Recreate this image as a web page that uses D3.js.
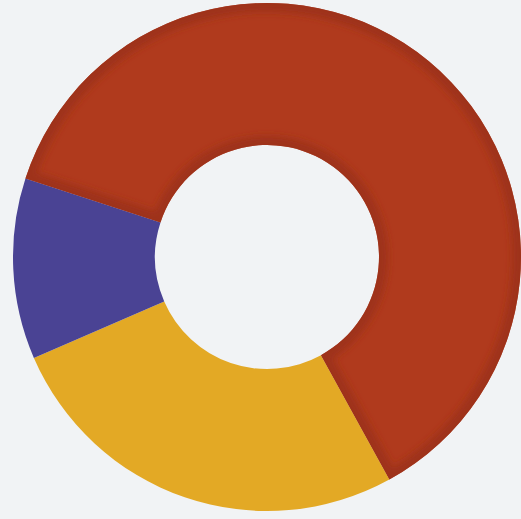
<!DOCTYPE html>
<html>
<head>
<meta charset="utf-8">
<script src="https://cdn.jsdelivr.net/npm/d3@7"></script>
<style>
  body { margin: 0; background: #f1f3f5; }
  svg { display: block; }
</style>
</head>
<body>
<svg id="chart"></svg>
<script>
// chart size
var width = 521,
    height = 519;

// slice data
var categories = ["A", "B", "C"];
var values = [62, 26.5, 11.5];
var colors = ["#b03a1d", "#e3a925", "#4a4394"];
var edgeColors = ["#9a301b", null, null];

var svg = d3.select("#chart")
    .attr("width", width)
    .attr("height", height);

var g = svg.append("g")
    .attr("transform", "translate(267,257)");

// pie starts at the red/blue boundary, about 72 degrees left of top
var start = -72 * Math.PI / 180;
var pie = d3.pie()
    .sort(null)
    .startAngle(start)
    .endAngle(start + 2 * Math.PI);

var arc = d3.arc()
    .innerRadius(112)
    .outerRadius(254);

var arcs = pie(values);

var defs = svg.append("defs");
defs.append("filter")
    .attr("id", "soft")
  .append("feGaussianBlur")
    .attr("stdDeviation", 3.5);

arcs.forEach(function(d, i) {
  defs.append("clipPath")
      .attr("id", "clip" + i)
    .append("path")
      .attr("d", arc(d));
});

// slices
g.selectAll("path.slice")
    .data(arcs)
  .enter().append("path")
    .attr("class", "slice")
    .attr("fill", function(d, i) { return colors[i]; })
    .attr("d", arc);

// darker rim inside the red slice
g.selectAll("g.rim")
    .data(arcs.filter(function(d, i) { return edgeColors[i]; }))
  .enter().append("g")
    .attr("class", "rim")
    .attr("clip-path", function(d) { return "url(#clip" + d.index + ")"; })
  .append("path")
    .attr("d", arc)
    .attr("fill", "none")
    .attr("stroke", function(d) { return edgeColors[d.index]; })
    .attr("stroke-opacity", 0.8)
    .attr("stroke-width", 18)
    .attr("filter", "url(#soft)");
</script>
</body>
</html>
